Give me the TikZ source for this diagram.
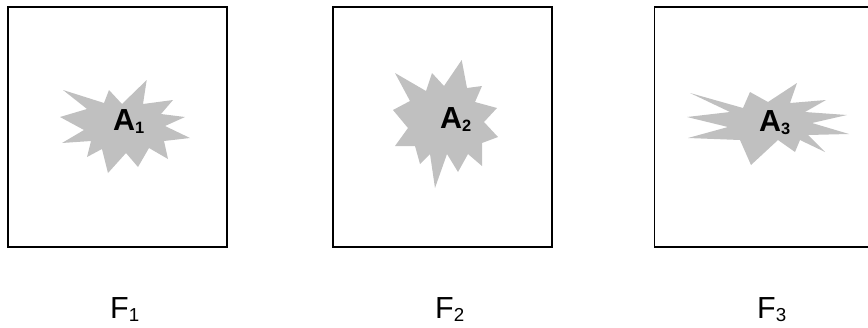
\documentclass[tikz,border=0pt]{standalone}
\usepackage{fontspec}
\setmainfont{Liberation Sans}
\usepackage{tikz}
\definecolor{burstgray}{RGB}{192, 192, 192}
\usetikzlibrary{positioning}
\newcommand{\lowidx}[2][14]{\raisebox{-1mm}{\fontsize{#1}{#1}\selectfont #2}}

\begin{document}
\begin{tikzpicture}[x=0.3mm, y=-0.3mm,
    frame/.style={draw=black, line width=0.45mm, inner sep=0pt,
                  minimum width=65.7mm, minimum height=72mm},
    burst/.style={fill=burstgray},
    alabel/.style={anchor=base west, inner sep=0pt, font=\fontsize{26}{30}\selectfont\bfseries},
    flabel/.style={anchor=base west, inner sep=0pt, font=\fontsize{26}{30}\selectfont}
]
    \useasboundingbox (0,0) rectangle (868,327);
    \clip (0,0) rectangle (868,327);

    % Frames
    \node[frame] (f1) at (117.5,127) {};
    \node[frame] (f2) at (442.5,127) {};
    \node[frame] (f3) at (764,127) {};

    % Bursts
    \fill[burst] (146.7,80) -- (143,104) -- (173,100) -- (161,114) -- (185,117) -- (165,126)
        -- (190,138) -- (164,141) -- (168,159) -- (149,148) -- (138,167) -- (126,153)
        -- (108,173) -- (102,149) -- (87,157) -- (91,141) -- (62,143) -- (84,130)
        -- (60,117) -- (87,109) -- (63,90) -- (104,103) -- (109,90) -- (122,104) -- cycle;

    \fill[burst] (461.7,60) -- (467,88) -- (482,86) -- (475,102) -- (497,108) -- (484,122)
        -- (498,137) -- (482,143) -- (482,166) -- (468,154) -- (458,172) -- (447,154)
        -- (435,188) -- (430,154) -- (420,164) -- (415,146) -- (395,146) -- (408,128)
        -- (393,110) -- (410,101) -- (395,73) -- (426,91) -- (432,73) -- (444,86) -- cycle;

    \fill[burst] (797,83) -- (790,103) -- (826,100) -- (805,112) -- (847,115) -- (812,123)
        -- (849,134) -- (808,135) -- (825,152) -- (800,140) -- (795,152) -- (778,140)
        -- (751,165) -- (740,140) -- (688,138) -- (728,127) -- (687,117) -- (730,112)
        -- (690,93) -- (743,108) -- (750,92) -- (768,102) -- cycle;

    % Labels
    \node[alabel] (a1) at (113,130) {A\lowidx{1}};
    \node[alabel] (a2) at (440,128) {A\lowidx{2}};
    \node[alabel] (a3) at (759,131) {A\lowidx{3}};

    \node[flabel] (l1) at (110,318) {F\lowidx[16]{1}};
    \node[flabel] (l2) at (435,318) {F\lowidx[16]{2}};
    \node[flabel] (l3) at (757,318) {F\lowidx[16]{3}};
\end{tikzpicture}
\end{document}
